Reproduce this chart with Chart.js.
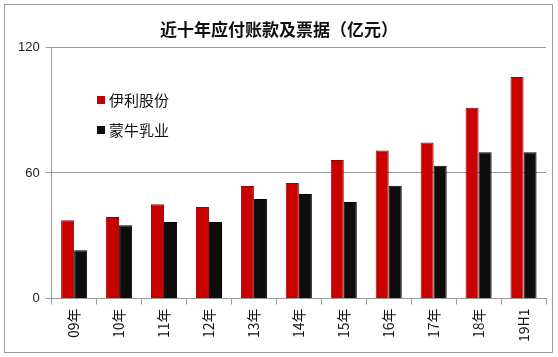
<!DOCTYPE html>
<html><head><meta charset="utf-8">
<script src="https://cdn.jsdelivr.net/npm/chart.js@4/dist/chart.umd.min.js"></script>
<style>html,body{margin:0;padding:0;background:#fff;}#wrap{width:558px;height:357px;position:relative;}</style>
</head><body><div id="wrap"><canvas id="c" width="558" height="357"></canvas></div>
<script>
const categories = ["09年","10年","11年","12年","13年","14年","15年","16年","17年","18年","19H1"];
const yiliValues = [37.4, 38.9, 45.1, 43.7, 53.8, 55.2, 66.2, 70.7, 74.6, 91.2, 105.8];
const mengniuValues = [23.0, 35.0, 36.5, 36.5, 47.5, 49.9, 46.1, 53.9, 63.4, 69.9, 69.9];
const seriesNames = ["伊利股份", "蒙牛乳业"];
const yTicks = [0, 60, 120];
const titleText = "近十年应付账款及票据（亿元）";

const frame = {
  id: 'frame',
  beforeDraw(chart) {
    const ctx = chart.ctx;
    ctx.save();
    ctx.fillStyle = '#fff';
    ctx.fillRect(0, 0, chart.width, chart.height);
    ctx.strokeStyle = '#9a9a9a';
    ctx.lineWidth = 1;
    ctx.strokeRect(4.5, 4.5, 548, 348);
    ctx.restore();
  },
  afterDraw(chart) {
    const ctx = chart.ctx;
    ctx.save();
    const colors = ['#c40000', '#0d0d0d'];
    const ys = [100, 130];
    ctx.font = '15px "Noto Sans CJK SC"';
    ctx.textBaseline = 'middle';
    for (let i = 0; i < seriesNames.length; i++) {
      ctx.fillStyle = colors[i];
      ctx.fillRect(97, ys[i] - 4, 8, 8);
      ctx.fillStyle = '#111';
      ctx.fillText(seriesNames[i], 109, ys[i]);
    }
    ctx.restore();
  }
};

new Chart(document.getElementById('c'), {
  type: 'bar',
  data: {
    labels: categories,
    datasets: [
      { label: seriesNames[0], data: yiliValues, backgroundColor: '#c80000', borderColor: '#9a0000', borderWidth: 1 },
      { label: seriesNames[1], data: mengniuValues, backgroundColor: '#0d0d0d', borderColor: '#000', borderWidth: 1 }
    ]
  },
  options: {
    responsive: false,
    animation: false,
    layout: { padding: { top: 19, left: 12, right: 12, bottom: 11 } },
    datasets: { bar: { categoryPercentage: 0.58, barPercentage: 1.0 } },
    plugins: {
      legend: { display: false },
      tooltip: { enabled: false },
      title: {
        display: true, text: titleText, color: '#111',
        font: { family: '"Noto Sans CJK SC"', size: 17, weight: 'bold' },
        padding: { top: 0, bottom: 8 }
      }
    },
    scales: {
      x: {
        grid: { offset: true, drawOnChartArea: false, drawTicks: true, tickLength: 6, color: '#9a9a9a' },
        border: { color: '#9a9a9a' },
        ticks: { minRotation: 90, maxRotation: 90, color: '#111', font: { family: '"Noto Sans CJK SC"', size: 14 }, padding: 4 }
      },
      y: {
        min: 0, max: 120,
        afterBuildTicks(axis) { axis.ticks = yTicks.map(v => ({ value: v })); },
        grid: { color: '#9a9a9a', tickLength: 6 },
        border: { color: '#9a9a9a' },
        ticks: { color: '#222', font: { family: '"Liberation Sans"', size: 13 }, padding: 6 }
      }
    }
  },
  plugins: [frame]
});
</script></body></html>
